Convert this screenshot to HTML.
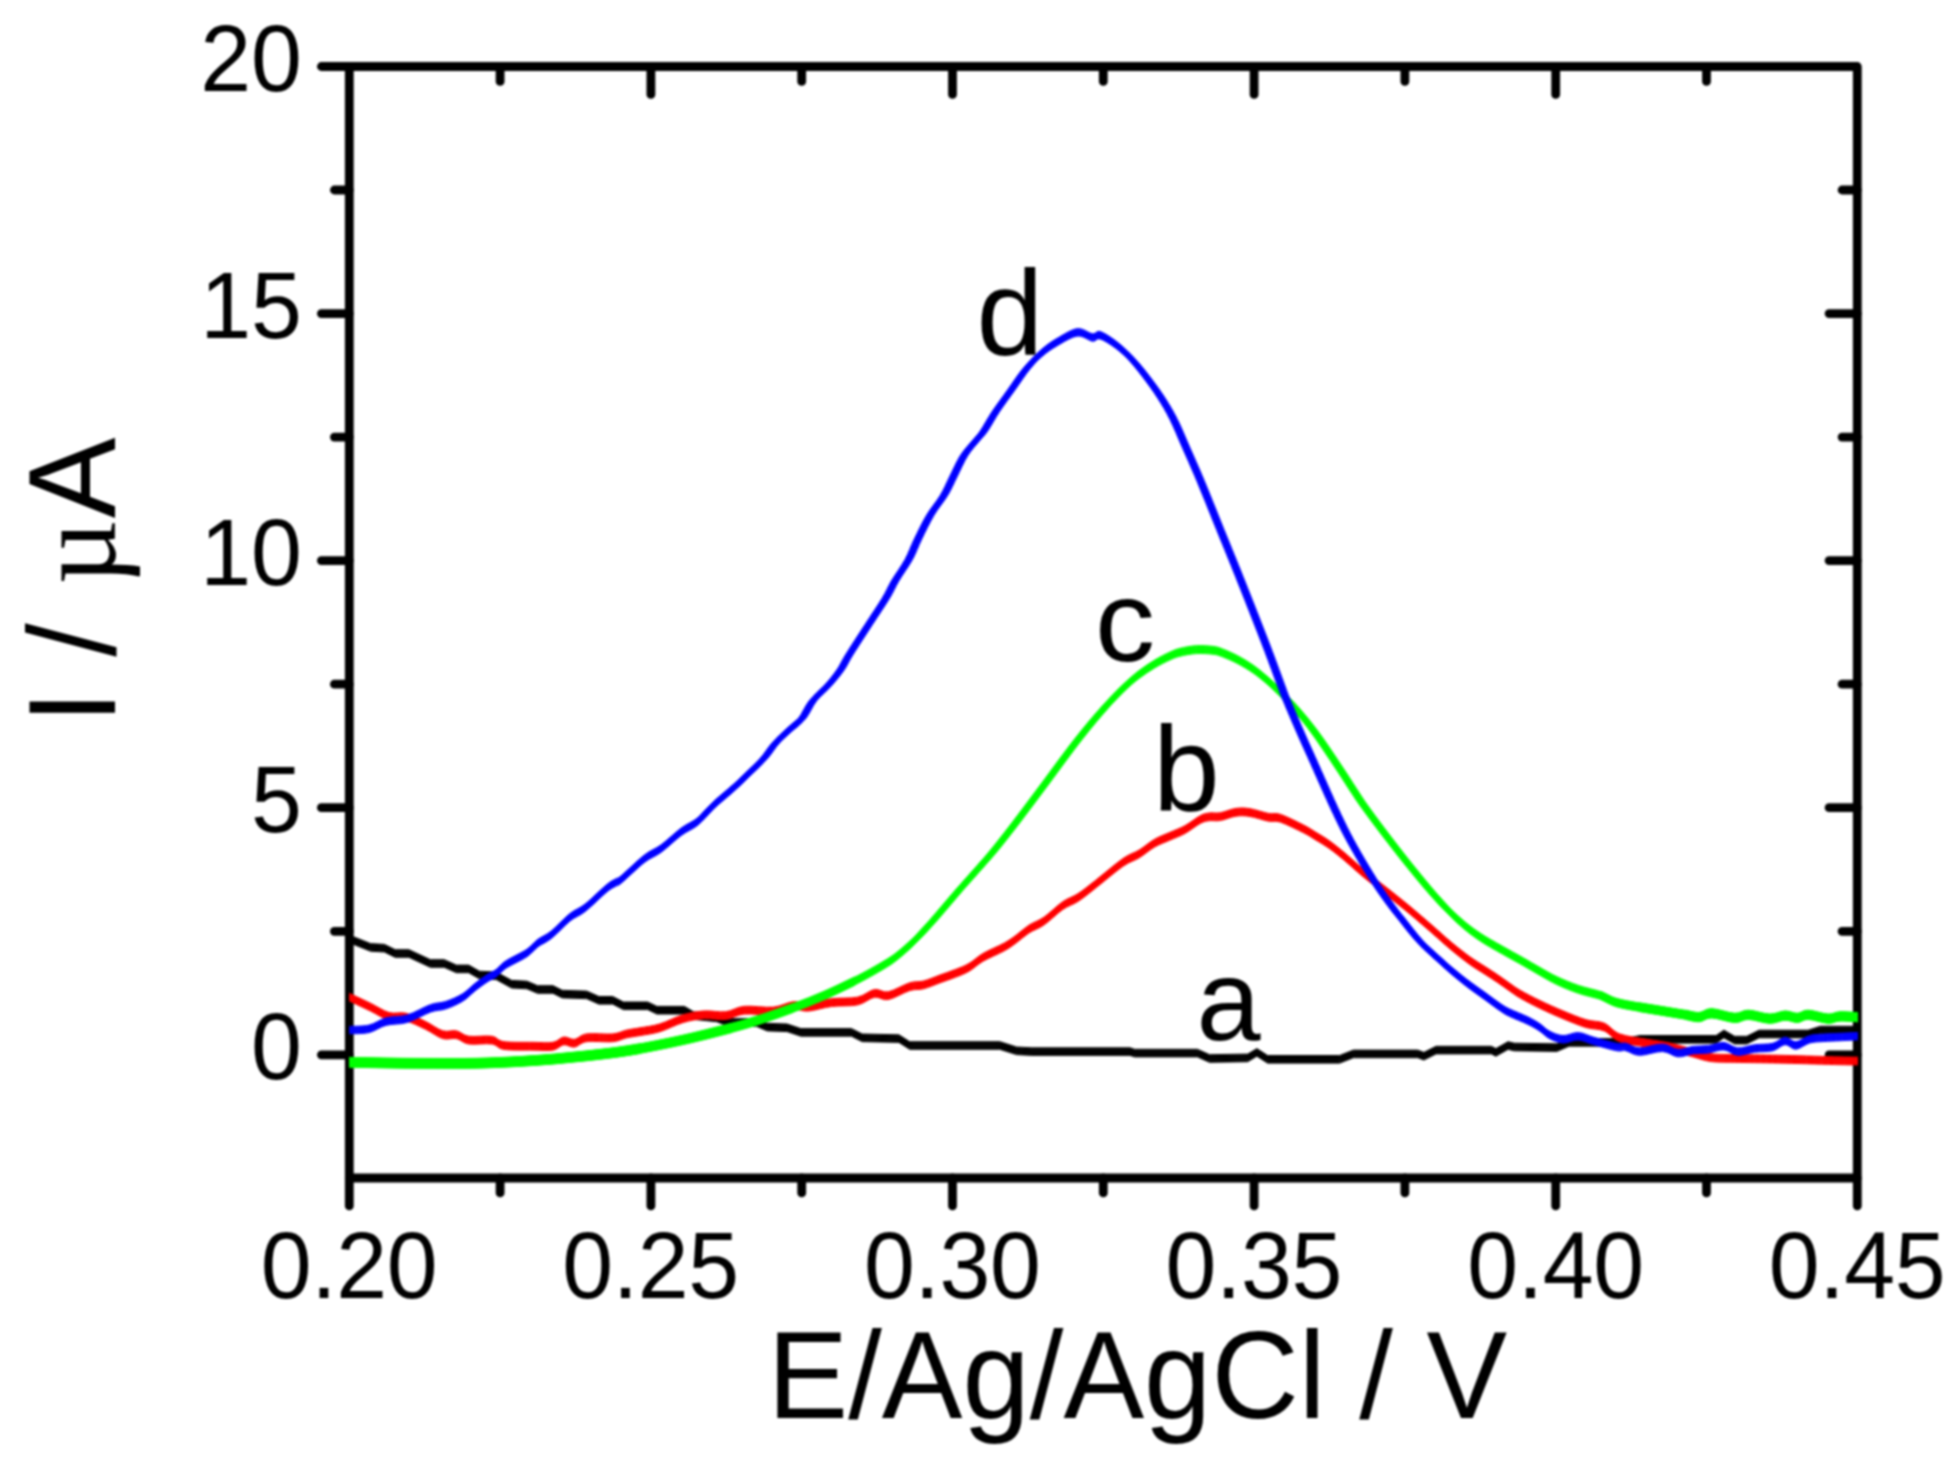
<!DOCTYPE html>
<html lang="en"><head><meta charset="utf-8"><title>I / µA vs E/Ag/AgCl / V</title>
<style>
html,body{margin:0;padding:0;background:#fff;}
body{width:1958px;height:1476px;overflow:hidden;}
svg{display:block;filter:blur(0.8px);}
text{font-family:"Liberation Sans",Arial,Helvetica,sans-serif;fill:#000;}
.tick{font-size:91.5px;}
.title{font-size:121px;}
.lab{font-size:120px;}
.mu{font-family:"Liberation Serif","Times New Roman",serif;}
.ax{stroke:#000;stroke-width:8.8;fill:none;stroke-linecap:round;stroke-linejoin:round;}
.tk{stroke:#000;stroke-width:8.8;fill:none;stroke-linecap:round;}
.cv{fill:none;stroke-linejoin:round;stroke-linecap:round;}
</style></head><body>
<svg width="1958" height="1476" viewBox="0 0 1958 1476">
<rect x="0" y="0" width="1958" height="1476" fill="#fff"/>
<g id="axes" class="ax">
<path d="M321.4 66.5H1857.3V1205.9"/>
<path d="M349.3 66.5V1205.9"/>
<path d="M349.3 1178.0H1857.3"/>
</g>
<g id="ticks" class="tk">
<path d="M650.9 1178.0v27.9"/>
<path d="M650.9 66.5v27.9"/>
<path d="M952.5 1178.0v27.9"/>
<path d="M952.5 66.5v27.9"/>
<path d="M1254.1 1178.0v27.9"/>
<path d="M1254.1 66.5v27.9"/>
<path d="M1555.7 1178.0v27.9"/>
<path d="M1555.7 66.5v27.9"/>
<path d="M500.1 1178.0v14.9"/>
<path d="M500.1 66.5v14.9"/>
<path d="M801.7 1178.0v14.9"/>
<path d="M801.7 66.5v14.9"/>
<path d="M1103.3 1178.0v14.9"/>
<path d="M1103.3 66.5v14.9"/>
<path d="M1404.9 1178.0v14.9"/>
<path d="M1404.9 66.5v14.9"/>
<path d="M1706.5 1178.0v14.9"/>
<path d="M1706.5 66.5v14.9"/>
<path d="M349.3 1054.8h-27.9"/>
<path d="M1857.3 1054.8h-28.2"/>
<path d="M349.3 807.7h-27.9"/>
<path d="M1857.3 807.7h-28.2"/>
<path d="M349.3 560.6h-27.9"/>
<path d="M1857.3 560.6h-28.2"/>
<path d="M349.3 313.6h-27.9"/>
<path d="M1857.3 313.6h-28.2"/>
<path d="M349.3 931.3h-14.9"/>
<path d="M1857.3 931.3h-15.2"/>
<path d="M349.3 684.2h-14.9"/>
<path d="M1857.3 684.2h-15.2"/>
<path d="M349.3 437.1h-14.9"/>
<path d="M1857.3 437.1h-15.2"/>
<path d="M349.3 190.0h-14.9"/>
<path d="M1857.3 190.0h-15.2"/>
</g>
<defs><clipPath id="plotclip"><rect x="349.3" y="66.5" width="1508.6" height="1111.5"/></clipPath></defs>
<defs>
<path id="cK" d="M347.0 938.0L349.5 939.0L370.6 947.4L384.4 948.2L395.2 953.5L408.9 953.5L430.4 963.5L444.2 963.5L456.4 968.9L468.7 968.9L479.4 975.0L496.3 975.8L511.6 984.2L526.9 985.0L537.6 989.5L553.0 989.5L562.2 994.1L586.7 994.9L598.9 1000.3L612.7 1000.3L623.4 1005.8L647.7 1005.8L656.9 1010.2L684.4 1010.2L693.6 1015.6L716.6 1017.9L728.9 1022.5L756.4 1022.5L767.2 1027.1L787.1 1027.8L800.9 1032.4L851.4 1032.4L862.2 1037.8L898.9 1038.6L909.7 1045.5L999.8 1045.5L1016.6 1050.8L1031.9 1051.6L1130.0 1051.6L1134.6 1053.1L1197.4 1053.1L1209.6 1058.5L1247.7 1057.9L1256.9 1052.4L1267.6 1059.3L1339.6 1059.3L1353.4 1053.9L1417.7 1053.9L1423.9 1056.2L1436.1 1050.1L1491.3 1050.1L1495.9 1052.4L1508.1 1045.5L1514.2 1047.0L1556.9 1047.6L1569.1 1042.4L1625.0 1042.4L1640.0 1039.3L1716.2 1039.3L1723.9 1034.0L1734.6 1040.1L1746.8 1040.1L1759.1 1034.0L1808.1 1034.0L1820.4 1030.1L1860.0 1030.1"/>
<path id="cR" d="M347.0 996.0C347.4 996.2 345.6 995.3 349.5 997.2C353.4 999.1 364.0 1004.0 370.6 1007.2C377.2 1010.4 383.1 1014.7 389.0 1016.4C394.9 1018.1 399.8 1015.6 405.9 1017.1C412.0 1018.6 419.7 1022.6 425.8 1025.5C431.9 1028.4 437.6 1033.2 442.7 1034.7C447.8 1036.2 452.1 1033.8 456.4 1034.7C460.7 1035.6 462.8 1039.2 468.7 1040.1C474.6 1041.0 485.8 1039.2 491.7 1040.1C497.6 1041.0 497.0 1044.5 503.9 1045.5C510.8 1046.5 524.8 1046.1 533.0 1046.2C541.2 1046.3 547.9 1047.1 553.0 1046.2C558.1 1045.3 560.1 1041.4 563.7 1040.9C567.3 1040.4 570.6 1043.7 574.4 1043.2C578.2 1042.7 580.3 1038.7 586.7 1037.8C593.1 1036.9 606.1 1038.4 612.7 1037.8C619.3 1037.2 621.9 1035.0 626.5 1034.0C631.1 1033.0 634.4 1032.7 640.0 1031.7C645.6 1030.7 652.7 1030.0 659.9 1027.8C667.1 1025.6 675.5 1020.9 682.9 1018.7C690.3 1016.5 697.1 1015.3 704.3 1014.8C711.5 1014.3 719.1 1016.4 725.8 1015.6C732.5 1014.8 736.3 1011.0 744.2 1010.2C752.1 1009.4 765.1 1011.8 773.3 1011.0C781.5 1010.2 787.3 1006.2 793.2 1005.6C799.1 1005.0 802.1 1007.7 808.5 1007.2C814.9 1006.7 823.3 1003.6 831.5 1002.6C839.7 1001.6 850.4 1002.5 857.6 1001.0C864.8 999.5 869.3 994.3 874.4 993.4C879.5 992.5 882.3 996.8 888.2 995.7C894.1 994.6 903.8 988.5 909.7 986.7C915.6 984.9 918.3 986.2 923.4 984.9C928.5 983.6 934.7 980.9 940.0 978.9C945.3 977.0 950.4 975.4 955.3 973.4C960.2 971.5 964.5 970.0 969.1 967.3C973.7 964.7 977.0 960.9 982.9 957.4C988.8 954.0 998.7 950.0 1004.3 946.9C1009.9 943.8 1012.5 941.7 1016.6 938.7C1020.7 935.7 1024.3 932.1 1028.9 929.1C1033.5 926.1 1038.6 924.9 1044.2 920.9C1049.8 917.0 1057.0 909.6 1062.6 905.7C1068.2 901.8 1072.8 900.9 1077.9 897.6C1083.0 894.4 1089.4 889.0 1093.2 886.1C1097.0 883.2 1095.7 884.0 1100.8 880.0C1105.9 875.9 1117.5 866.1 1123.9 861.8C1130.3 857.5 1134.1 857.0 1139.2 853.9C1144.3 850.8 1149.4 846.1 1154.5 843.2C1159.6 840.2 1164.7 838.6 1169.8 836.3C1174.9 834.0 1180.0 832.3 1185.1 829.5C1190.2 826.7 1196.4 821.5 1200.5 819.4C1204.6 817.3 1206.3 817.3 1209.6 816.8C1212.9 816.4 1216.0 817.4 1220.4 816.6C1224.8 815.9 1231.1 812.9 1236.0 812.3C1240.9 811.6 1244.6 811.7 1250.0 812.6C1255.4 813.4 1263.3 816.3 1268.4 817.3C1273.5 818.2 1274.7 816.4 1280.6 818.3C1286.5 820.3 1297.7 826.0 1303.6 828.9C1309.5 831.9 1311.5 833.5 1315.9 836.2C1320.3 838.8 1324.8 841.4 1329.7 844.9C1334.6 848.4 1339.9 852.8 1345.0 857.0C1350.1 861.3 1355.2 866.2 1360.3 870.5C1365.4 874.8 1371.0 879.3 1375.6 882.9C1380.2 886.6 1383.3 888.8 1387.9 892.5C1392.5 896.1 1399.0 901.3 1403.2 904.7C1407.4 908.1 1408.4 908.9 1413.1 912.9C1417.8 916.9 1425.1 923.1 1431.5 928.7C1437.9 934.2 1445.0 940.9 1451.4 946.2C1457.8 951.5 1464.2 956.5 1469.8 960.6C1475.4 964.6 1480.5 967.5 1485.1 970.5C1489.7 973.5 1493.3 975.7 1497.4 978.5C1501.5 981.2 1505.8 984.5 1509.6 987.1C1513.4 989.7 1515.3 991.4 1520.4 994.3C1525.5 997.2 1532.9 1001.1 1540.0 1004.5C1547.1 1007.9 1555.3 1011.6 1563.0 1014.8C1570.7 1018.0 1579.1 1021.5 1586.0 1023.6C1592.9 1025.6 1598.7 1024.7 1604.3 1027.1C1609.9 1029.5 1612.5 1035.1 1619.7 1037.8C1626.9 1040.5 1638.8 1041.7 1647.2 1043.2C1655.6 1044.7 1662.5 1045.3 1670.2 1047.0C1677.9 1048.7 1686.3 1051.3 1693.2 1053.1C1700.1 1054.9 1703.9 1056.8 1711.6 1057.7C1719.3 1058.6 1726.9 1058.2 1739.2 1058.5C1751.5 1058.8 1768.3 1058.9 1785.1 1059.3C1801.9 1059.7 1827.5 1060.5 1840.0 1060.8C1852.5 1061.1 1856.7 1061.0 1860.0 1061.0"/>
<path id="cG" d="M347.0 1062.3C347.4 1062.3 340.4 1062.2 349.5 1062.3C358.6 1062.4 382.4 1063.0 401.3 1063.2C420.2 1063.4 447.3 1063.4 462.6 1063.4C477.9 1063.3 483.0 1063.1 493.2 1062.7C503.4 1062.4 513.7 1061.8 523.9 1061.2C534.1 1060.6 544.3 1059.8 554.5 1059.0C564.7 1058.1 574.9 1057.1 585.1 1056.0C595.3 1054.9 606.6 1053.6 615.8 1052.4C625.0 1051.1 628.3 1050.8 640.0 1048.6C651.7 1046.4 670.7 1042.7 686.0 1039.2C701.3 1035.8 719.1 1031.3 731.9 1027.8C744.7 1024.4 752.4 1022.0 762.6 1018.7C772.8 1015.3 783.0 1011.8 793.2 1007.9C803.4 1004.1 813.7 1000.0 823.9 995.6C834.1 991.1 844.3 986.4 854.5 981.2C864.7 976.0 877.4 968.9 885.1 964.2C892.8 959.6 895.4 957.4 900.5 953.2C905.6 949.1 910.7 944.2 915.8 939.2C920.9 934.1 927.1 927.3 931.1 922.8C935.1 918.4 935.2 918.2 940.0 912.6C944.8 907.0 955.2 894.7 959.9 889.3C964.6 883.9 962.9 886.0 968.0 880.2C973.1 874.4 984.0 862.3 990.6 854.6C997.2 846.8 1001.5 841.2 1007.4 833.7C1013.3 826.2 1019.7 817.7 1025.8 809.6C1031.9 801.4 1038.1 793.3 1044.2 785.0C1050.3 776.8 1057.0 767.6 1062.6 760.0C1068.2 752.5 1072.8 746.3 1077.9 739.8C1083.0 733.3 1088.1 727.0 1093.2 720.9C1098.3 714.9 1103.4 709.0 1108.5 703.4C1113.6 697.9 1118.8 692.4 1123.9 687.6C1129.0 682.7 1134.1 678.3 1139.2 674.4C1144.3 670.5 1149.4 667.2 1154.5 664.1C1159.6 661.0 1165.5 658.0 1169.8 656.1C1174.1 654.1 1175.5 653.4 1180.0 652.3C1184.5 651.2 1191.0 649.9 1196.5 649.6C1202.0 649.3 1208.6 649.8 1213.0 650.3C1217.4 650.8 1218.4 651.3 1222.6 652.9C1226.8 654.5 1232.8 657.1 1237.9 659.8C1243.0 662.5 1248.6 665.9 1253.2 669.1C1257.8 672.3 1261.7 675.6 1265.5 678.8C1269.3 682.0 1271.4 683.8 1276.2 688.6C1281.0 693.3 1288.6 700.6 1294.5 707.1C1300.4 713.6 1305.9 720.5 1311.3 727.5C1316.7 734.5 1321.5 741.6 1326.6 749.1C1331.7 756.5 1337.0 764.7 1341.9 772.1C1346.8 779.5 1352.1 788.0 1355.7 793.4C1359.3 798.9 1359.3 799.1 1363.4 804.9C1367.5 810.6 1374.8 820.6 1380.2 827.7C1385.6 834.9 1390.4 841.1 1395.5 847.7C1400.6 854.2 1405.1 860.1 1410.9 867.2C1416.7 874.3 1424.3 883.7 1430.0 890.3C1435.7 896.9 1440.3 902.0 1445.0 906.9C1449.7 911.7 1453.8 915.8 1458.0 919.7C1462.2 923.5 1465.5 926.4 1470.0 929.8C1474.5 933.2 1478.7 936.2 1485.1 940.2C1491.5 944.1 1501.7 949.7 1508.1 953.3C1514.5 956.9 1518.1 958.8 1523.4 961.8C1528.7 964.8 1534.4 968.3 1540.0 971.4C1545.6 974.6 1550.5 977.6 1556.9 980.6C1563.3 983.6 1570.9 986.8 1578.3 989.3C1585.7 991.9 1594.9 993.5 1601.3 995.7C1607.7 997.9 1610.2 1000.7 1616.6 1002.6C1623.0 1004.5 1631.9 1005.8 1639.6 1007.2C1647.3 1008.6 1654.9 1009.7 1662.6 1011.0C1670.3 1012.3 1679.4 1013.8 1685.5 1014.8C1691.6 1015.8 1694.9 1017.4 1699.3 1017.1C1703.7 1016.8 1705.7 1013.2 1711.6 1013.3C1717.5 1013.4 1728.5 1017.6 1734.6 1017.9C1740.7 1018.2 1742.5 1014.7 1748.4 1014.8C1754.3 1014.9 1763.7 1018.6 1769.8 1018.7C1775.9 1018.8 1780.5 1015.7 1785.1 1015.6C1789.7 1015.5 1793.6 1018.0 1797.4 1017.9C1801.2 1017.8 1803.0 1014.7 1808.1 1014.8C1813.2 1014.9 1822.7 1018.4 1828.0 1018.7C1833.3 1019.0 1834.7 1016.6 1840.0 1016.4C1845.3 1016.2 1856.7 1017.2 1860.0 1017.4"/>
<path id="cGl0" d="M347.0 1062.3C347.4 1062.3 340.4 1062.2 349.5 1062.3C358.6 1062.4 382.4 1063.0 401.3 1063.2C420.2 1063.4 447.3 1063.4 462.6 1063.4C477.9 1063.3 483.0 1063.1 493.2 1062.7C503.4 1062.4 513.7 1061.8 523.9 1061.2C534.1 1060.6 544.3 1059.8 554.5 1059.0C564.7 1058.1 574.9 1057.1 585.1 1056.0C595.3 1054.9 606.6 1053.6 615.8 1052.4C625.0 1051.1 628.3 1050.8 640.0 1048.6C651.7 1046.4 670.7 1042.7 686.0 1039.2C701.3 1035.8 719.1 1031.3 731.9 1027.8C744.7 1024.4 752.4 1022.0 762.6 1018.7C772.8 1015.3 783.0 1011.8 793.2 1007.9C803.4 1004.1 813.7 1000.0 823.9 995.6C834.1 991.1 849.4 983.6 854.5 981.2"/>
<path id="cGl1" d="M347.0 1062.3C347.4 1062.3 340.4 1062.2 349.5 1062.3C358.6 1062.4 382.4 1063.0 401.3 1063.2C420.2 1063.4 447.3 1063.4 462.6 1063.4C477.9 1063.3 483.0 1063.1 493.2 1062.7C503.4 1062.4 513.7 1061.8 523.9 1061.2C534.1 1060.6 544.3 1059.8 554.5 1059.0C564.7 1058.1 574.9 1057.1 585.1 1056.0C595.3 1054.9 606.6 1053.6 615.8 1052.4C625.0 1051.1 628.3 1050.8 640.0 1048.6C651.7 1046.4 670.7 1042.7 686.0 1039.2C701.3 1035.8 719.1 1031.3 731.9 1027.8C744.7 1024.4 752.4 1022.0 762.6 1018.7C772.8 1015.3 788.1 1009.7 793.2 1007.9"/>
<path id="cGl2" d="M347.0 1062.3C347.4 1062.3 340.4 1062.2 349.5 1062.3C358.6 1062.4 382.4 1063.0 401.3 1063.2C420.2 1063.4 447.3 1063.4 462.6 1063.4C477.9 1063.3 483.0 1063.1 493.2 1062.7C503.4 1062.4 513.7 1061.8 523.9 1061.2C534.1 1060.6 544.3 1059.8 554.5 1059.0C564.7 1058.1 574.9 1057.1 585.1 1056.0C595.3 1054.9 606.6 1053.6 615.8 1052.4C625.0 1051.1 628.3 1050.8 640.0 1048.6C651.7 1046.4 670.7 1042.7 686.0 1039.2C701.3 1035.8 724.2 1029.7 731.9 1027.8"/>
<path id="cGl3" d="M347.0 1062.3C347.4 1062.3 340.4 1062.2 349.5 1062.3C358.6 1062.4 382.4 1063.0 401.3 1063.2C420.2 1063.4 447.3 1063.4 462.6 1063.4C477.9 1063.3 483.0 1063.1 493.2 1062.7C503.4 1062.4 513.7 1061.8 523.9 1061.2C534.1 1060.6 544.3 1059.8 554.5 1059.0C564.7 1058.1 574.9 1057.1 585.1 1056.0C595.3 1054.9 606.6 1053.6 615.8 1052.4C625.0 1051.1 636.0 1049.2 640.0 1048.6"/>
<path id="cGr0" d="M1601.3 995.7C1603.9 996.9 1610.2 1000.7 1616.6 1002.6C1623.0 1004.5 1631.9 1005.8 1639.6 1007.2C1647.3 1008.6 1654.9 1009.7 1662.6 1011.0C1670.3 1012.3 1679.4 1013.8 1685.5 1014.8C1691.6 1015.8 1694.9 1017.4 1699.3 1017.1C1703.7 1016.8 1705.7 1013.2 1711.6 1013.3C1717.5 1013.4 1728.5 1017.6 1734.6 1017.9C1740.7 1018.2 1742.5 1014.7 1748.4 1014.8C1754.3 1014.9 1763.7 1018.6 1769.8 1018.7C1775.9 1018.8 1780.5 1015.7 1785.1 1015.6C1789.7 1015.5 1793.6 1018.0 1797.4 1017.9C1801.2 1017.8 1803.0 1014.7 1808.1 1014.8C1813.2 1014.9 1822.7 1018.4 1828.0 1018.7C1833.3 1019.0 1834.7 1016.6 1840.0 1016.4C1845.3 1016.2 1856.7 1017.2 1860.0 1017.4"/>
<path id="cGr1" d="M1639.6 1007.2C1643.4 1007.8 1654.9 1009.7 1662.6 1011.0C1670.3 1012.3 1679.4 1013.8 1685.5 1014.8C1691.6 1015.8 1694.9 1017.4 1699.3 1017.1C1703.7 1016.8 1705.7 1013.2 1711.6 1013.3C1717.5 1013.4 1728.5 1017.6 1734.6 1017.9C1740.7 1018.2 1742.5 1014.7 1748.4 1014.8C1754.3 1014.9 1763.7 1018.6 1769.8 1018.7C1775.9 1018.8 1780.5 1015.7 1785.1 1015.6C1789.7 1015.5 1793.6 1018.0 1797.4 1017.9C1801.2 1017.8 1803.0 1014.7 1808.1 1014.8C1813.2 1014.9 1822.7 1018.4 1828.0 1018.7C1833.3 1019.0 1834.7 1016.6 1840.0 1016.4C1845.3 1016.2 1856.7 1017.2 1860.0 1017.4"/>
<path id="cGr2" d="M1685.5 1014.8C1687.8 1015.2 1694.9 1017.4 1699.3 1017.1C1703.7 1016.8 1705.7 1013.2 1711.6 1013.3C1717.5 1013.4 1728.5 1017.6 1734.6 1017.9C1740.7 1018.2 1742.5 1014.7 1748.4 1014.8C1754.3 1014.9 1763.7 1018.6 1769.8 1018.7C1775.9 1018.8 1780.5 1015.7 1785.1 1015.6C1789.7 1015.5 1793.6 1018.0 1797.4 1017.9C1801.2 1017.8 1803.0 1014.7 1808.1 1014.8C1813.2 1014.9 1822.7 1018.4 1828.0 1018.7C1833.3 1019.0 1834.7 1016.6 1840.0 1016.4C1845.3 1016.2 1856.7 1017.2 1860.0 1017.4"/>
<path id="cB" d="M347.0 1030.1C347.4 1030.1 345.8 1030.3 349.5 1030.1C353.2 1029.9 363.0 1030.2 369.1 1028.8C375.2 1027.4 379.6 1023.3 386.0 1021.6C392.4 1019.9 400.0 1020.9 407.4 1018.7C414.8 1016.5 424.0 1010.6 430.4 1008.4C436.8 1006.1 440.3 1007.0 445.7 1005.2C451.1 1003.4 457.7 1000.5 462.6 997.5C467.5 994.6 470.7 990.5 474.8 987.3C478.9 984.1 483.5 980.7 487.1 978.3C490.7 975.9 493.2 975.4 496.3 973.2C499.4 970.9 500.4 968.1 505.5 964.8C510.6 961.4 521.5 956.6 526.9 953.0C532.3 949.4 533.5 946.3 537.6 943.2C541.7 940.2 546.0 939.0 551.4 934.7C556.8 930.4 564.2 921.8 569.8 917.4C575.4 912.9 579.0 912.6 585.1 907.8C591.2 903.0 601.5 892.6 606.6 888.4C611.7 884.2 613.3 884.0 615.8 882.5C618.3 881.0 616.6 883.2 621.4 879.3C626.2 875.3 637.7 863.9 644.3 858.8C650.9 853.6 655.1 853.0 661.2 848.5C667.3 844.0 675.0 836.4 681.1 831.8C687.2 827.3 692.6 825.7 698.0 821.3C703.4 816.8 707.4 810.9 713.3 805.4C719.2 799.9 727.3 793.5 733.2 788.2C739.1 782.9 743.4 778.7 748.5 773.7C753.6 768.8 759.2 763.7 763.8 758.5C768.4 753.3 771.5 747.6 776.1 742.5C780.7 737.4 787.0 732.0 791.4 728.0C795.8 724.0 798.6 722.8 802.2 718.3C805.8 713.8 808.6 706.3 812.9 700.8C817.2 695.3 823.6 690.4 828.2 685.3C832.8 680.1 837.0 675.0 840.5 669.9C844.0 664.8 844.6 662.3 849.3 654.7C854.0 647.1 862.8 633.7 868.9 624.3C875.0 614.9 881.4 605.5 885.8 598.3C890.2 591.1 891.2 587.6 895.0 581.1C898.8 574.6 905.0 566.4 908.8 559.4C912.6 552.4 914.4 546.4 918.0 539.1C921.6 531.7 925.9 522.6 930.2 515.3C934.5 508.0 940.2 501.7 944.0 495.3C947.8 489.0 949.9 483.6 953.2 477.0C956.5 470.4 960.1 461.9 963.9 455.8C967.7 449.7 972.8 444.5 976.2 440.4C979.6 436.2 980.7 435.8 984.0 430.9C987.3 426.1 991.4 418.2 996.0 411.3C1000.6 404.5 1006.2 397.1 1011.3 389.9C1016.4 382.8 1021.5 374.7 1026.6 368.6C1031.7 362.4 1036.8 357.2 1041.9 352.8C1047.0 348.4 1051.3 345.4 1057.2 342.0C1063.1 338.6 1071.3 333.2 1077.2 332.4C1083.1 331.6 1088.7 337.0 1092.5 337.5C1096.3 338.0 1096.3 334.0 1100.1 335.2C1103.9 336.4 1110.4 340.6 1115.5 344.4C1120.6 348.2 1125.7 352.8 1130.8 358.2C1135.9 363.6 1141.0 369.9 1146.1 376.6C1151.2 383.3 1156.8 390.9 1161.4 398.1C1166.0 405.3 1169.6 411.3 1173.7 419.5C1177.8 427.7 1181.8 437.8 1185.9 447.1C1190.0 456.4 1194.4 466.3 1198.2 475.2C1202.0 484.1 1205.1 492.0 1208.5 500.3C1211.9 508.7 1214.1 514.3 1218.5 525.2C1222.9 536.1 1229.1 551.3 1234.9 565.6C1240.7 580.0 1247.4 597.0 1253.0 611.3C1258.6 625.6 1263.9 639.1 1268.5 651.3C1273.1 663.5 1277.9 676.8 1280.8 684.6C1283.7 692.5 1283.1 691.4 1286.0 698.5C1288.9 705.5 1293.8 717.1 1298.0 726.8C1302.2 736.6 1307.0 747.2 1311.3 756.7C1315.6 766.3 1319.2 774.5 1323.5 784.2C1327.8 793.8 1332.9 805.4 1337.3 814.6C1341.7 823.8 1345.0 830.7 1349.6 839.2C1354.2 847.8 1359.8 857.4 1364.9 865.9C1370.0 874.4 1375.3 882.9 1380.2 890.2C1385.1 897.4 1390.5 904.7 1394.0 909.4C1397.5 914.0 1397.7 914.0 1400.9 918.0C1404.1 922.0 1409.3 928.9 1413.1 933.5C1416.9 938.1 1419.5 941.2 1423.9 945.6C1428.3 949.9 1434.6 955.4 1439.2 959.6C1443.8 963.7 1446.8 966.6 1451.4 970.5C1456.0 974.3 1461.1 978.6 1466.7 982.9C1472.3 987.2 1479.5 992.2 1485.1 996.2C1490.7 1000.3 1496.3 1004.6 1500.4 1007.3C1504.5 1010.1 1505.0 1010.5 1509.6 1012.7C1514.2 1014.9 1522.9 1018.2 1528.0 1020.7C1533.1 1023.2 1536.5 1025.2 1540.0 1027.6C1543.5 1029.9 1545.4 1032.7 1549.2 1034.7C1553.0 1036.7 1558.1 1039.0 1563.0 1039.3C1567.9 1039.6 1573.2 1036.0 1578.3 1036.3C1583.4 1036.6 1587.2 1039.1 1593.6 1040.9C1600.0 1042.7 1611.2 1046.0 1616.6 1047.0C1622.0 1048.0 1622.0 1046.2 1625.8 1047.0C1629.6 1047.8 1633.5 1051.5 1639.6 1051.6C1645.7 1051.7 1656.2 1047.5 1662.6 1047.8C1669.0 1048.1 1672.8 1052.7 1677.9 1053.1C1683.0 1053.5 1688.1 1050.7 1693.2 1050.1C1698.3 1049.5 1703.4 1050.0 1708.5 1049.3C1713.6 1048.6 1719.0 1045.8 1723.9 1046.2C1728.8 1046.6 1732.5 1051.2 1737.6 1051.6C1742.7 1052.0 1748.6 1049.3 1754.5 1048.5C1760.4 1047.7 1767.8 1048.3 1772.9 1047.0C1778.0 1045.7 1781.3 1041.2 1785.1 1040.9C1788.9 1040.6 1791.8 1045.8 1795.9 1045.5C1800.0 1045.2 1805.0 1040.6 1809.6 1039.3C1814.2 1038.0 1818.3 1038.2 1823.4 1037.8C1828.5 1037.4 1833.9 1037.3 1840.0 1037.0C1846.1 1036.7 1856.7 1036.2 1860.0 1036.0"/>
</defs>
<g id="curves" class="cv" clip-path="url(#plotclip)">
<g stroke="#000000" stroke-width="1.0"><use href="#cK" y="-3.80"/><use href="#cK" y="-3.29"/><use href="#cK" y="-2.79"/><use href="#cK" y="-2.28"/><use href="#cK" y="-1.77"/><use href="#cK" y="-1.27"/><use href="#cK" y="-0.76"/><use href="#cK" y="-0.25"/><use href="#cK" y="0.25"/><use href="#cK" y="0.76"/><use href="#cK" y="1.27"/><use href="#cK" y="1.77"/><use href="#cK" y="2.28"/><use href="#cK" y="2.79"/><use href="#cK" y="3.29"/><use href="#cK" y="3.80"/><use href="#cK" x="-3.80"/><use href="#cK" x="-3.29"/><use href="#cK" x="-2.79"/><use href="#cK" x="-2.28"/><use href="#cK" x="-1.77"/><use href="#cK" x="-1.27"/><use href="#cK" x="-0.76"/><use href="#cK" x="-0.25"/><use href="#cK" x="0.25"/><use href="#cK" x="0.76"/><use href="#cK" x="1.27"/><use href="#cK" x="1.77"/><use href="#cK" x="2.28"/><use href="#cK" x="2.79"/><use href="#cK" x="3.29"/><use href="#cK" x="3.80"/></g>
<g stroke="#ff0000" stroke-width="1.0"><use href="#cR" y="-3.90"/><use href="#cR" y="-3.41"/><use href="#cR" y="-2.93"/><use href="#cR" y="-2.44"/><use href="#cR" y="-1.95"/><use href="#cR" y="-1.46"/><use href="#cR" y="-0.98"/><use href="#cR" y="-0.49"/><use href="#cR" y="0.00"/><use href="#cR" y="0.49"/><use href="#cR" y="0.97"/><use href="#cR" y="1.46"/><use href="#cR" y="1.95"/><use href="#cR" y="2.44"/><use href="#cR" y="2.93"/><use href="#cR" y="3.41"/><use href="#cR" y="3.90"/><use href="#cR" x="-3.90"/><use href="#cR" x="-3.41"/><use href="#cR" x="-2.93"/><use href="#cR" x="-2.44"/><use href="#cR" x="-1.95"/><use href="#cR" x="-1.46"/><use href="#cR" x="-0.98"/><use href="#cR" x="-0.49"/><use href="#cR" x="0.49"/><use href="#cR" x="0.97"/><use href="#cR" x="1.46"/><use href="#cR" x="1.95"/><use href="#cR" x="2.44"/><use href="#cR" x="2.93"/><use href="#cR" x="3.41"/><use href="#cR" x="3.90"/></g>
<g stroke="#00ff00" stroke-width="1.0"><use href="#cG" y="-3.95"/><use href="#cG" y="-3.46"/><use href="#cG" y="-2.96"/><use href="#cG" y="-2.47"/><use href="#cG" y="-1.98"/><use href="#cG" y="-1.48"/><use href="#cG" y="-0.99"/><use href="#cG" y="-0.49"/><use href="#cG" y="0.00"/><use href="#cG" y="0.49"/><use href="#cG" y="0.99"/><use href="#cG" y="1.48"/><use href="#cG" y="1.98"/><use href="#cG" y="2.47"/><use href="#cG" y="2.96"/><use href="#cG" y="3.46"/><use href="#cG" y="3.95"/><use href="#cG" x="-3.95"/><use href="#cG" x="-3.46"/><use href="#cG" x="-2.96"/><use href="#cG" x="-2.47"/><use href="#cG" x="-1.98"/><use href="#cG" x="-1.48"/><use href="#cG" x="-0.99"/><use href="#cG" x="-0.49"/><use href="#cG" x="0.49"/><use href="#cG" x="0.99"/><use href="#cG" x="1.48"/><use href="#cG" x="1.98"/><use href="#cG" x="2.47"/><use href="#cG" x="2.96"/><use href="#cG" x="3.46"/><use href="#cG" x="3.95"/></g>
<g stroke="#00ff00" stroke-width="1.0"><use href="#cGl0" y="-4.20"/><use href="#cGl0" y="-3.71"/><use href="#cGl0" y="-3.21"/><use href="#cGl0" y="-2.72"/><use href="#cGl0" y="-2.22"/><use href="#cGl0" y="-1.73"/><use href="#cGl0" y="-1.24"/><use href="#cGl0" y="-0.74"/><use href="#cGl0" y="-0.25"/><use href="#cGl0" y="0.25"/><use href="#cGl0" y="0.74"/><use href="#cGl0" y="1.24"/><use href="#cGl0" y="1.73"/><use href="#cGl0" y="2.22"/><use href="#cGl0" y="2.72"/><use href="#cGl0" y="3.21"/><use href="#cGl0" y="3.71"/><use href="#cGl0" y="4.20"/><use href="#cGl0" x="-4.20"/><use href="#cGl0" x="-3.71"/><use href="#cGl0" x="-3.21"/><use href="#cGl0" x="-2.72"/><use href="#cGl0" x="-2.22"/><use href="#cGl0" x="-1.73"/><use href="#cGl0" x="-1.24"/><use href="#cGl0" x="-0.74"/><use href="#cGl0" x="-0.25"/><use href="#cGl0" x="0.25"/><use href="#cGl0" x="0.74"/><use href="#cGl0" x="1.24"/><use href="#cGl0" x="1.73"/><use href="#cGl0" x="2.22"/><use href="#cGl0" x="2.72"/><use href="#cGl0" x="3.21"/><use href="#cGl0" x="3.71"/><use href="#cGl0" x="4.20"/></g>
<g stroke="#00ff00" stroke-width="1.0"><use href="#cGl1" y="-4.45"/><use href="#cGl1" y="-3.96"/><use href="#cGl1" y="-3.46"/><use href="#cGl1" y="-2.97"/><use href="#cGl1" y="-2.47"/><use href="#cGl1" y="-1.98"/><use href="#cGl1" y="-1.48"/><use href="#cGl1" y="-0.99"/><use href="#cGl1" y="-0.49"/><use href="#cGl1" y="0.00"/><use href="#cGl1" y="0.49"/><use href="#cGl1" y="0.99"/><use href="#cGl1" y="1.48"/><use href="#cGl1" y="1.98"/><use href="#cGl1" y="2.47"/><use href="#cGl1" y="2.97"/><use href="#cGl1" y="3.46"/><use href="#cGl1" y="3.96"/><use href="#cGl1" y="4.45"/><use href="#cGl1" x="-4.45"/><use href="#cGl1" x="-3.96"/><use href="#cGl1" x="-3.46"/><use href="#cGl1" x="-2.97"/><use href="#cGl1" x="-2.47"/><use href="#cGl1" x="-1.98"/><use href="#cGl1" x="-1.48"/><use href="#cGl1" x="-0.99"/><use href="#cGl1" x="-0.49"/><use href="#cGl1" x="0.49"/><use href="#cGl1" x="0.99"/><use href="#cGl1" x="1.48"/><use href="#cGl1" x="1.98"/><use href="#cGl1" x="2.47"/><use href="#cGl1" x="2.97"/><use href="#cGl1" x="3.46"/><use href="#cGl1" x="3.96"/><use href="#cGl1" x="4.45"/></g>
<g stroke="#00ff00" stroke-width="1.0"><use href="#cGl2" y="-4.70"/><use href="#cGl2" y="-4.21"/><use href="#cGl2" y="-3.71"/><use href="#cGl2" y="-3.22"/><use href="#cGl2" y="-2.72"/><use href="#cGl2" y="-2.23"/><use href="#cGl2" y="-1.73"/><use href="#cGl2" y="-1.24"/><use href="#cGl2" y="-0.74"/><use href="#cGl2" y="-0.25"/><use href="#cGl2" y="0.25"/><use href="#cGl2" y="0.74"/><use href="#cGl2" y="1.24"/><use href="#cGl2" y="1.73"/><use href="#cGl2" y="2.23"/><use href="#cGl2" y="2.72"/><use href="#cGl2" y="3.22"/><use href="#cGl2" y="3.71"/><use href="#cGl2" y="4.21"/><use href="#cGl2" y="4.70"/><use href="#cGl2" x="-4.70"/><use href="#cGl2" x="-4.21"/><use href="#cGl2" x="-3.71"/><use href="#cGl2" x="-3.22"/><use href="#cGl2" x="-2.72"/><use href="#cGl2" x="-2.23"/><use href="#cGl2" x="-1.73"/><use href="#cGl2" x="-1.24"/><use href="#cGl2" x="-0.74"/><use href="#cGl2" x="-0.25"/><use href="#cGl2" x="0.25"/><use href="#cGl2" x="0.74"/><use href="#cGl2" x="1.24"/><use href="#cGl2" x="1.73"/><use href="#cGl2" x="2.23"/><use href="#cGl2" x="2.72"/><use href="#cGl2" x="3.22"/><use href="#cGl2" x="3.71"/><use href="#cGl2" x="4.21"/><use href="#cGl2" x="4.70"/></g>
<g stroke="#00ff00" stroke-width="1.0"><use href="#cGl3" y="-4.90"/><use href="#cGl3" y="-4.41"/><use href="#cGl3" y="-3.92"/><use href="#cGl3" y="-3.43"/><use href="#cGl3" y="-2.94"/><use href="#cGl3" y="-2.45"/><use href="#cGl3" y="-1.96"/><use href="#cGl3" y="-1.47"/><use href="#cGl3" y="-0.98"/><use href="#cGl3" y="-0.49"/><use href="#cGl3" y="0.00"/><use href="#cGl3" y="0.49"/><use href="#cGl3" y="0.98"/><use href="#cGl3" y="1.47"/><use href="#cGl3" y="1.96"/><use href="#cGl3" y="2.45"/><use href="#cGl3" y="2.94"/><use href="#cGl3" y="3.43"/><use href="#cGl3" y="3.92"/><use href="#cGl3" y="4.41"/><use href="#cGl3" y="4.90"/><use href="#cGl3" x="-4.90"/><use href="#cGl3" x="-4.41"/><use href="#cGl3" x="-3.92"/><use href="#cGl3" x="-3.43"/><use href="#cGl3" x="-2.94"/><use href="#cGl3" x="-2.45"/><use href="#cGl3" x="-1.96"/><use href="#cGl3" x="-1.47"/><use href="#cGl3" x="-0.98"/><use href="#cGl3" x="-0.49"/><use href="#cGl3" x="0.49"/><use href="#cGl3" x="0.98"/><use href="#cGl3" x="1.47"/><use href="#cGl3" x="1.96"/><use href="#cGl3" x="2.45"/><use href="#cGl3" x="2.94"/><use href="#cGl3" x="3.43"/><use href="#cGl3" x="3.92"/><use href="#cGl3" x="4.41"/><use href="#cGl3" x="4.90"/></g>
<g stroke="#00ff00" stroke-width="1.0"><use href="#cGr0" y="-4.15"/><use href="#cGr0" y="-3.66"/><use href="#cGr0" y="-3.17"/><use href="#cGr0" y="-2.69"/><use href="#cGr0" y="-2.20"/><use href="#cGr0" y="-1.71"/><use href="#cGr0" y="-1.22"/><use href="#cGr0" y="-0.73"/><use href="#cGr0" y="-0.24"/><use href="#cGr0" y="0.24"/><use href="#cGr0" y="0.73"/><use href="#cGr0" y="1.22"/><use href="#cGr0" y="1.71"/><use href="#cGr0" y="2.20"/><use href="#cGr0" y="2.69"/><use href="#cGr0" y="3.17"/><use href="#cGr0" y="3.66"/><use href="#cGr0" y="4.15"/><use href="#cGr0" x="-4.15"/><use href="#cGr0" x="-3.66"/><use href="#cGr0" x="-3.17"/><use href="#cGr0" x="-2.69"/><use href="#cGr0" x="-2.20"/><use href="#cGr0" x="-1.71"/><use href="#cGr0" x="-1.22"/><use href="#cGr0" x="-0.73"/><use href="#cGr0" x="-0.24"/><use href="#cGr0" x="0.24"/><use href="#cGr0" x="0.73"/><use href="#cGr0" x="1.22"/><use href="#cGr0" x="1.71"/><use href="#cGr0" x="2.20"/><use href="#cGr0" x="2.69"/><use href="#cGr0" x="3.17"/><use href="#cGr0" x="3.66"/><use href="#cGr0" x="4.15"/></g>
<g stroke="#00ff00" stroke-width="1.0"><use href="#cGr1" y="-4.40"/><use href="#cGr1" y="-3.91"/><use href="#cGr1" y="-3.42"/><use href="#cGr1" y="-2.93"/><use href="#cGr1" y="-2.44"/><use href="#cGr1" y="-1.96"/><use href="#cGr1" y="-1.47"/><use href="#cGr1" y="-0.98"/><use href="#cGr1" y="-0.49"/><use href="#cGr1" y="0.00"/><use href="#cGr1" y="0.49"/><use href="#cGr1" y="0.98"/><use href="#cGr1" y="1.47"/><use href="#cGr1" y="1.96"/><use href="#cGr1" y="2.44"/><use href="#cGr1" y="2.93"/><use href="#cGr1" y="3.42"/><use href="#cGr1" y="3.91"/><use href="#cGr1" y="4.40"/><use href="#cGr1" x="-4.40"/><use href="#cGr1" x="-3.91"/><use href="#cGr1" x="-3.42"/><use href="#cGr1" x="-2.93"/><use href="#cGr1" x="-2.44"/><use href="#cGr1" x="-1.96"/><use href="#cGr1" x="-1.47"/><use href="#cGr1" x="-0.98"/><use href="#cGr1" x="-0.49"/><use href="#cGr1" x="0.49"/><use href="#cGr1" x="0.98"/><use href="#cGr1" x="1.47"/><use href="#cGr1" x="1.96"/><use href="#cGr1" x="2.44"/><use href="#cGr1" x="2.93"/><use href="#cGr1" x="3.42"/><use href="#cGr1" x="3.91"/><use href="#cGr1" x="4.40"/></g>
<g stroke="#00ff00" stroke-width="1.0"><use href="#cGr2" y="-4.60"/><use href="#cGr2" y="-4.09"/><use href="#cGr2" y="-3.58"/><use href="#cGr2" y="-3.07"/><use href="#cGr2" y="-2.56"/><use href="#cGr2" y="-2.04"/><use href="#cGr2" y="-1.53"/><use href="#cGr2" y="-1.02"/><use href="#cGr2" y="-0.51"/><use href="#cGr2" y="0.00"/><use href="#cGr2" y="0.51"/><use href="#cGr2" y="1.02"/><use href="#cGr2" y="1.53"/><use href="#cGr2" y="2.04"/><use href="#cGr2" y="2.56"/><use href="#cGr2" y="3.07"/><use href="#cGr2" y="3.58"/><use href="#cGr2" y="4.09"/><use href="#cGr2" y="4.60"/><use href="#cGr2" x="-4.60"/><use href="#cGr2" x="-4.09"/><use href="#cGr2" x="-3.58"/><use href="#cGr2" x="-3.07"/><use href="#cGr2" x="-2.56"/><use href="#cGr2" x="-2.04"/><use href="#cGr2" x="-1.53"/><use href="#cGr2" x="-1.02"/><use href="#cGr2" x="-0.51"/><use href="#cGr2" x="0.51"/><use href="#cGr2" x="1.02"/><use href="#cGr2" x="1.53"/><use href="#cGr2" x="2.04"/><use href="#cGr2" x="2.56"/><use href="#cGr2" x="3.07"/><use href="#cGr2" x="3.58"/><use href="#cGr2" x="4.09"/><use href="#cGr2" x="4.60"/></g>
<g stroke="#0000ff" stroke-width="1.0"><use href="#cB" y="-3.75"/><use href="#cB" y="-3.25"/><use href="#cB" y="-2.75"/><use href="#cB" y="-2.25"/><use href="#cB" y="-1.75"/><use href="#cB" y="-1.25"/><use href="#cB" y="-0.75"/><use href="#cB" y="-0.25"/><use href="#cB" y="0.25"/><use href="#cB" y="0.75"/><use href="#cB" y="1.25"/><use href="#cB" y="1.75"/><use href="#cB" y="2.25"/><use href="#cB" y="2.75"/><use href="#cB" y="3.25"/><use href="#cB" y="3.75"/><use href="#cB" x="-3.75"/><use href="#cB" x="-3.25"/><use href="#cB" x="-2.75"/><use href="#cB" x="-2.25"/><use href="#cB" x="-1.75"/><use href="#cB" x="-1.25"/><use href="#cB" x="-0.75"/><use href="#cB" x="-0.25"/><use href="#cB" x="0.25"/><use href="#cB" x="0.75"/><use href="#cB" x="1.25"/><use href="#cB" x="1.75"/><use href="#cB" x="2.25"/><use href="#cB" x="2.75"/><use href="#cB" x="3.25"/><use href="#cB" x="3.75"/></g>
</g>
<g id="ticklabels" class="tick">
<text transform="translate(302 1078.8) scale(1 1.035)" text-anchor="end">0</text>
<text transform="translate(302 831.7) scale(1 1.035)" text-anchor="end">5</text>
<text transform="translate(302 584.6) scale(1 1.035)" text-anchor="end">10</text>
<text transform="translate(302 337.6) scale(1 1.035)" text-anchor="end">15</text>
<text transform="translate(302 90.5) scale(1 1.035)" text-anchor="end">20</text>
<text transform="translate(349.0 1297.5) scale(1 1.035)" text-anchor="middle" letter-spacing="-0.4">0.20</text>
<text transform="translate(650.6 1297.5) scale(1 1.035)" text-anchor="middle" letter-spacing="-0.4">0.25</text>
<text transform="translate(952.2 1297.5) scale(1 1.035)" text-anchor="middle" letter-spacing="-0.4">0.30</text>
<text transform="translate(1253.8 1297.5) scale(1 1.035)" text-anchor="middle" letter-spacing="-0.4">0.35</text>
<text transform="translate(1555.4 1297.5) scale(1 1.035)" text-anchor="middle" letter-spacing="-0.4">0.40</text>
<text transform="translate(1857.0 1297.5) scale(1 1.035)" text-anchor="middle" letter-spacing="-0.4">0.45</text>
</g>
<text class="title" transform="translate(767.5 1418) scale(1 1.035)">E/Ag/AgCl / V</text>
<text class="title" transform="translate(115.3 724) rotate(-90) scale(1 1.035)">I / <tspan class="mu" font-size="113" dx="4.9">µ</tspan><tspan dx="1.2">A</tspan></text>
<g id="curvelabels" class="lab">
<text transform="translate(1196.5 1039.5) scale(0.96 0.96)">a</text>
<text transform="translate(1153 810) scale(1 1)">b</text>
<text transform="translate(1095 661) scale(1 0.96)">c</text>
<text transform="translate(976.5 354) scale(1 1)">d</text>
</g>
</svg>
</body></html>
